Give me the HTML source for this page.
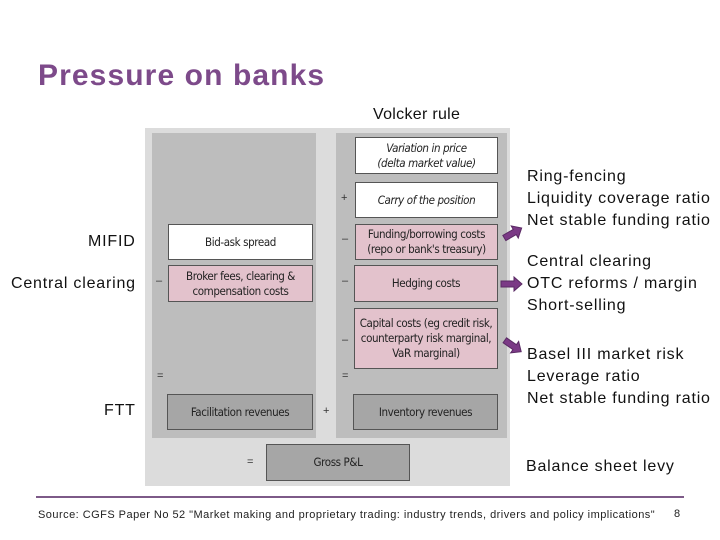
<!DOCTYPE html>
<html><head><meta charset="utf-8"><style>
body{margin:0;width:720px;height:540px;background:#fff;position:relative;overflow:hidden;font-family:"Liberation Sans",sans-serif}
.a{position:absolute}
.t{font-size:16px;color:#111;line-height:22px;white-space:nowrap;letter-spacing:0.8px}
.b{position:absolute;box-sizing:border-box;border:1px solid #555;display:flex;align-items:center;justify-content:center;text-align:center;font-family:"DejaVu Sans Condensed","Liberation Sans Narrow","Liberation Sans",sans-serif;font-size:11.5px;line-height:15px;color:#222;letter-spacing:-0.4px}
.w{background:#fff}.p{background:#e3c2cc}.g{background:#a6a6a6}
.s{position:absolute;font-size:11px;color:#333}
</style></head><body>
<div class="a" style="left:38px;top:59px;font-size:30px;font-weight:bold;color:#7d4a8a;letter-spacing:1.1px">Pressure on banks</div>
<div class="a t" style="left:373px;top:104px;letter-spacing:0.3px">Volcker rule</div>
<div class="a t" style="left:88px;top:231px">MIFID</div>
<div class="a t" style="left:11px;top:273px">Central clearing</div>
<div class="a t" style="left:104px;top:400px">FTT</div>
<div class="a t" style="left:527px;top:166px">Ring-fencing<br>Liquidity coverage ratio<br>Net stable funding ratio</div>
<div class="a t" style="left:527px;top:251px">Central clearing<br>OTC reforms / margin<br>Short-selling</div>
<div class="a t" style="left:527px;top:344px">Basel III market risk<br>Leverage ratio<br>Net stable funding ratio</div>
<div class="a t" style="left:526px;top:456px">Balance sheet levy</div>

<div class="a" style="left:145px;top:128px;width:365px;height:358px;background:#dcdcdc"></div>
<div class="a" style="left:152px;top:133px;width:164px;height:305px;background:#bdbdbd"></div>
<div class="a" style="left:336px;top:133px;width:171px;height:305px;background:#bdbdbd"></div>

<div class="b w" style="left:355px;top:137px;width:143px;height:37px;font-style:italic">Variation in price<br>(delta market value)</div>
<div class="b w" style="left:355px;top:182px;width:143px;height:36px;font-style:italic">Carry of the position</div>
<div class="b p" style="left:355px;top:224px;width:143px;height:36px">Funding/borrowing costs<br>(repo or bank's treasury)</div>
<div class="b p" style="left:354px;top:265px;width:144px;height:37px">Hedging costs</div>
<div class="b p" style="left:354px;top:308px;width:144px;height:61px">Capital costs (eg credit risk,<br>counterparty risk marginal,<br>VaR marginal)</div>
<div class="b g" style="left:353px;top:394px;width:145px;height:36px">Inventory revenues</div>
<div class="b w" style="left:168px;top:224px;width:145px;height:36px">Bid-ask spread</div>
<div class="b p" style="left:168px;top:265px;width:145px;height:37px">Broker fees, clearing &amp;<br>compensation costs</div>
<div class="b g" style="left:167px;top:394px;width:146px;height:36px">Facilitation revenues</div>
<div class="b g" style="left:266px;top:444px;width:144px;height:37px">Gross P&amp;L</div>

<div class="s" style="left:341px;top:192px">+</div>
<div class="s" style="left:342px;top:233px">–</div>
<div class="s" style="left:342px;top:275px">–</div>
<div class="s" style="left:342px;top:334px">–</div>
<div class="s" style="left:342px;top:370px">=</div>
<div class="s" style="left:156px;top:275px">–</div>
<div class="s" style="left:157px;top:370px">=</div>
<div class="s" style="left:323px;top:405px">+</div>
<div class="s" style="left:247px;top:456px">=</div>

<svg class="a" style="left:0;top:0" width="720" height="540">
<g fill="#7b3a86" stroke="#5a2a64" stroke-width="1">
<polygon points="-10,-3 2,-3 2,-7 10,0 2,7 2,3 -10,3" transform="translate(513,233) rotate(-30)"/>
<polygon points="-11,-3 2,-3 2,-7 10,0 2,7 2,3 -11,3" transform="translate(512,284)"/>
<polygon points="-10,-3 2,-3 2,-7 10,0 2,7 2,3 -10,3" transform="translate(513,346) rotate(35)"/>
</g>
<line x1="36" y1="497" x2="684" y2="497" stroke="#7d5a88" stroke-width="2"/>
</svg>
<div class="a" style="left:38px;top:509px;font-size:11px;color:#222;white-space:nowrap;letter-spacing:0.47px">Source: CGFS Paper No 52 "Market making and proprietary trading: industry trends, drivers and policy implications"</div>
<div class="a" style="left:674px;top:508px;font-size:11px;color:#222">8</div>
</body></html>
